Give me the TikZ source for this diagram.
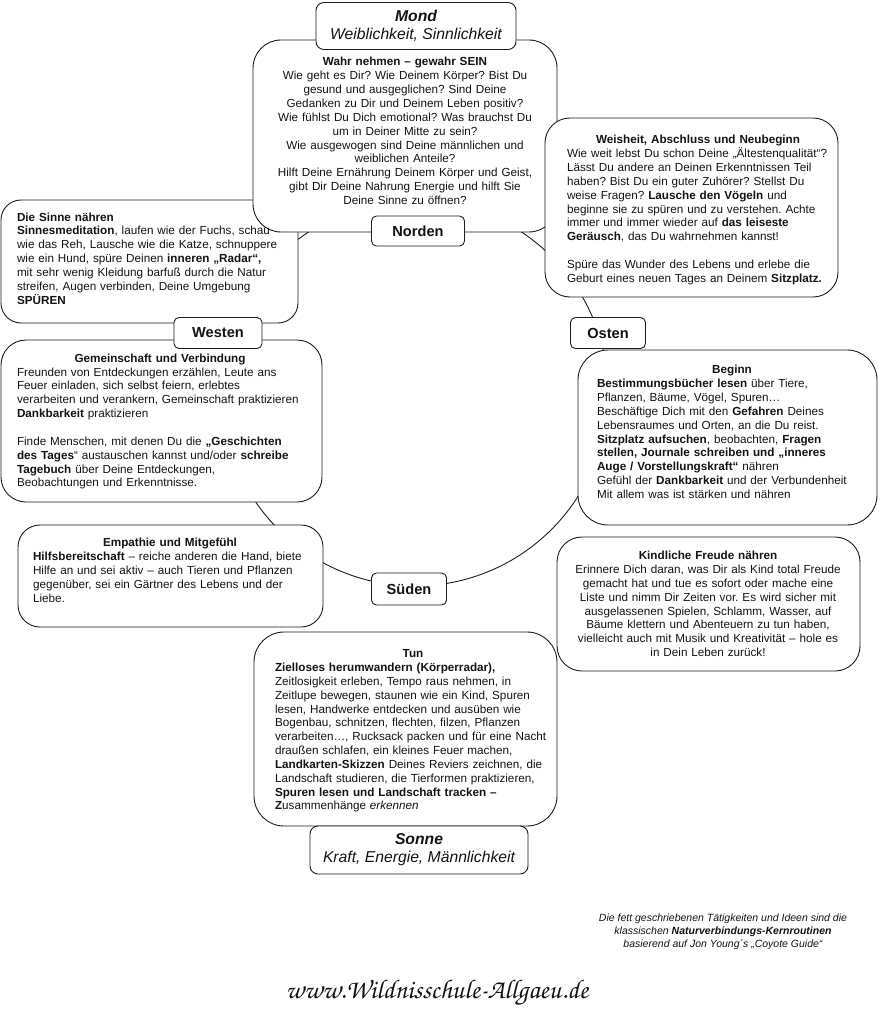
\documentclass[tikz,border=0pt]{standalone}
\usepackage[T1,TU]{fontenc}
\usepackage{fontspec}
\setmainfont{Liberation Sans}
\usepackage{tikz}
\usetikzlibrary{positioning}
\definecolor{figline}{HTML}{1C1C1C}
\definecolor{figtext}{HTML}{141414}
\frenchspacing
\newcommand{\gap}{\\[\baselineskip]}
\newcommand{\headline}[1]{\makebox[\linewidth]{\textbf{#1}}\\}
\tikzset{
  card/.style={draw=figline, fill=white, line width=0.9pt, inner sep=0pt},
  dirbox/.style={card, rounded corners=5pt, text=figtext, font=\fontsize{14.6}{16}\selectfont\bfseries},
  bodytxt/.style={inner sep=0pt, text=figtext, font=\fontsize{11.7}{13.85}\selectfont},
}

\begin{document}
\begin{tikzpicture}[x=1pt,y=-1pt]
\useasboundingbox (0,0) rectangle (878,1024);
\fill[white] (0,0) rectangle (878,1024);

% ring through the four directions
\coordinate (hub) at (415,393);
\draw[figline, line width=0.9pt] (hub) circle [radius=193pt];

\node[card, rounded corners=20pt, minimum width=297pt, minimum height=123pt] (sinnebox) at (149.5,261.5) {};
\node[card, rounded corners=28pt, minimum width=304pt, minimum height=192pt] (wahrbox) at (405,136) {};
\node[card, rounded corners=25pt, minimum width=293pt, minimum height=179pt] (weisbox) at (691.5,207.5) {};
\node[card, rounded corners=25pt, minimum width=321pt, minimum height=162pt] (gemeinbox) at (161.5,421) {};
\node[card, rounded corners=30pt, minimum width=299pt, minimum height=175pt] (beginbox) at (727.5,437.5) {};
\node[card, rounded corners=22pt, minimum width=305pt, minimum height=102pt] (empbox) at (170.5,576) {};
\node[card, rounded corners=30pt, minimum width=303pt, minimum height=194pt] (tunbox) at (405.5,729) {};
\node[card, rounded corners=25pt, minimum width=303pt, minimum height=134pt] (kindbox) at (708.5,604) {};

\node[bodytxt, text width=290pt, align=center] (wahrtxt) at (405,131) {
\textbf{Wahr nehmen – gewahr SEIN}\\
Wie geht es Dir? Wie Deinem Körper? Bist Du\\
gesund und ausgeglichen? Sind Deine\\
Gedanken zu Dir und Deinem Leben positiv?\\
Wie fühlst Du Dich emotional? Was brauchst Du\\
um in Deiner Mitte zu sein?\\
Wie ausgewogen sind Deine männlichen und\\
weiblichen Anteile?\\
Hilft Deine Ernährung Deinem Körper und Geist,\\
gibt Dir Deine Nahrung Energie und hilft Sie\\
Deine Sinne zu öffnen?};

\node[bodytxt, text width=262pt, align=left] (weistxt) at (698,210) {
\headline{Weisheit, Abschluss und Neubeginn}
Wie weit lebst Du schon Deine „Ältestenqualität“?\\
Lässt Du andere an Deinen Erkenntnissen Teil\\
haben? Bist Du ein guter Zuhörer? Stellst Du\\
weise Fragen? \textbf{Lausche den Vögeln} und\\
beginne sie zu spüren und zu verstehen. Achte\\
immer und immer wieder auf \textbf{das leiseste}\\
\textbf{Geräusch}, das Du wahrnehmen kannst!\gap
Spüre das Wunder des Lebens und erlebe die\\
Geburt eines neuen Tages an Deinem \textbf{Sitzplatz.}};

\node[bodytxt, text width=264pt, align=left] (sinnetxt) at (149,258.5) {
\textbf{Die Sinne nähren}\\
\textbf{Sinnesmeditation}, laufen wie der Fuchs, schau\\
wie das Reh, Lausche wie die Katze, schnuppere\\
wie ein Hund, spüre Deinen \textbf{inneren „Radar“,}\\
mit sehr wenig Kleidung barfuß durch die Natur\\
streifen, Augen verbinden, Deine Umgebung\\
\textbf{SPÜREN}};

\node[bodytxt, text width=286pt, align=left] (gemeintxt) at (160,421.5) {
\headline{Gemeinschaft und Verbindung}
Freunden von Entdeckungen erzählen, Leute ans\\
Feuer einladen, sich selbst feiern, erlebtes\\
verarbeiten und verankern, Gemeinschaft praktizieren\\
\textbf{Dankbarkeit} praktizieren\gap
Finde Menschen, mit denen Du die \textbf{„Geschichten}\\
\textbf{des Tages}“ austauschen kannst und/oder \textbf{schreibe}\\
\textbf{Tagebuch} über Deine Entdeckungen,\\
Beobachtungen und Erkenntnisse.};

\node[bodytxt, text width=270pt, align=left] (begintxt) at (732,432) {
\headline{Beginn}
\textbf{Bestimmungsbücher lesen} über Tiere,\\
Pflanzen, Bäume, Vögel, Spuren…\\
Beschäftige Dich mit den \textbf{Gefahren} Deines\\
Lebensraumes und Orten, an die Du reist.\\
\textbf{Sitzplatz aufsuchen}, beobachten, \textbf{Fragen}\\
\textbf{stellen, Journale schreiben und „inneres}\\
\textbf{Auge / Vorstellungskraft“} nähren\\
Gefühl der \textbf{Dankbarkeit} und der Verbundenheit\\
Mit allem was ist stärken und nähren};

\node[bodytxt, text width=274pt, align=left] (emptxt) at (170,570.5) {
\headline{Empathie und Mitgefühl}
\textbf{Hilfsbereitschaft} – reiche anderen die Hand, biete\\
Hilfe an und sei aktiv – auch Tieren und Pflanzen\\
gegenüber, sei ein Gärtner des Lebens und der\\
Liebe.};

\node[bodytxt, text width=300pt, align=center] (kindtxt) at (708,604) {
\textbf{Kindliche Freude nähren}\\
Erinnere Dich daran, was Dir als Kind total Freude\\
gemacht hat und tue es sofort oder mache eine\\
Liste und nimm Dir Zeiten vor. Es wird sicher mit\\
ausgelassenen Spielen, Schlamm, Wasser, auf\\
Bäume klettern und Abenteuern zu tun haben,\\
vielleicht auch mit Musik und Kreativität – hole es\\
in Dein Leben zurück!};

\node[bodytxt, text width=276pt, align=left] (tuntxt) at (413,731) {
\headline{Tun}
\textbf{Zielloses herumwandern (Körperradar),}\\
Zeitlosigkeit erleben, Tempo raus nehmen, in\\
Zeitlupe bewegen, staunen wie ein Kind, Spuren\\
lesen, Handwerke entdecken und ausüben wie\\
Bogenbau, schnitzen, flechten, filzen, Pflanzen\\
verarbeiten…, Rucksack packen und für eine Nacht\\
draußen schlafen, ein kleines Feuer machen,\\
\textbf{Landkarten-Skizzen} Deines Reviers zeichnen, die\\
Landschaft studieren, die Tierformen praktizieren,\\
\textbf{Spuren lesen und Landschaft tracken –}\\
\textbf{Z}usammenhänge \textit{erkennen}};

% moon / sun headers
\node[card, rounded corners=8pt, minimum width=200pt, minimum height=47pt, align=center, text=figtext,
  font=\fontsize{15.7}{18}\selectfont\itshape] (mond) at (416,26) {\textbf{Mond}\\Weiblichkeit, Sinnlichkeit};
\node[card, rounded corners=8pt, minimum width=218pt, minimum height=48pt, align=center, text=figtext,
  font=\fontsize{15.7}{18}\selectfont\itshape] (sonne) at (419,850) {\textbf{Sonne}\\Kraft, Energie, Männlichkeit};

\node[dirbox, minimum width=93pt, minimum height=30pt] (norden) at (418,231) {Norden};
\node[dirbox, minimum width=88pt, minimum height=31pt] (westen) at (218,333) {Westen};
\node[dirbox, minimum width=75pt, minimum height=31pt] (osten) at (608,333) {Osten};
\node[dirbox, minimum width=75pt, minimum height=32pt] (sueden) at (409,589) {Süden};

\node[text=figtext, align=center, font=\fontsize{10.5}{13}\selectfont\itshape] (fussnote) at (723,932)
  {Die fett geschriebenen Tätigkeiten und Ideen sind die\\
   klassischen \textbf{Naturverbindungs-Kernroutinen}\\
   basierend auf Jon Young´s „Coyote Guide“};

\node[text=figtext, font=\fontencoding{T1}\fontfamily{pzc}\fontseries{mb}\fontshape{it}\fontsize{27}{30}\selectfont] (webadr) at (437,993)
  {www.Wildnisschule-Allgaeu.de};
\end{tikzpicture}
\end{document}
